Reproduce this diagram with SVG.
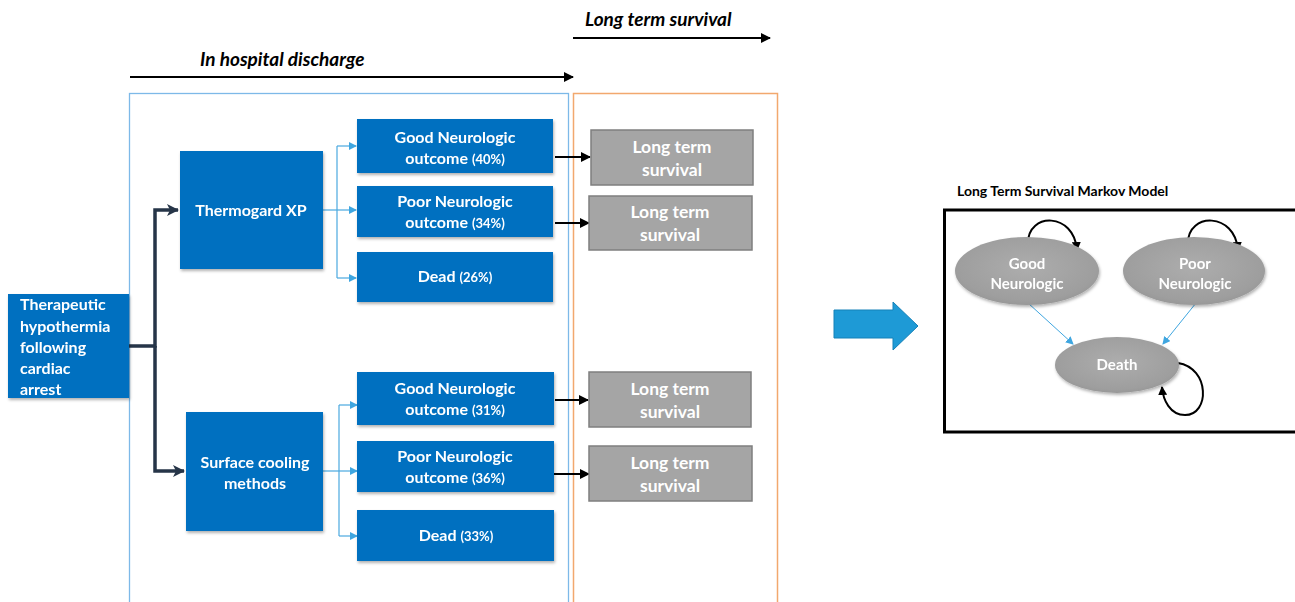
<svg xmlns="http://www.w3.org/2000/svg" width="1295" height="602" viewBox="0 0 1295 602">
<defs>
<style>
.t{font-family:Lato,"Open Sans","Liberation Sans",sans-serif;font-weight:bold;fill:#fff}
.bx{fill:#0070C0}
.gr{fill:#A5A5A5;stroke:#7F7F7F;stroke-width:1.5}
.lb{fill:none;stroke:#4AA8E0;stroke-width:1.2}
.dk{fill:none;stroke:#263548;stroke-width:3.5}
.bk{fill:none;stroke:#000;stroke-width:2}
.pc{font-size:13px}
.hd{font-family:Lato,"Open Sans","Liberation Sans",sans-serif;font-weight:bold;font-style:italic;font-size:19px;fill:#000}
.el{fill:url(#eg)}
</style>
<marker id="ab" markerWidth="8" markerHeight="8" refX="7" refY="4" orient="auto" markerUnits="userSpaceOnUse"><path d="M0,0 L8,4 L0,8 Z" fill="#3FA6E0"/></marker>
<marker id="ad" markerWidth="12" markerHeight="12" refX="11" refY="6" orient="auto" markerUnits="userSpaceOnUse"><path d="M0,0 L12,6 L0,12 L3,6 Z" fill="#263548"/></marker>
<marker id="ak" markerWidth="10" markerHeight="10" refX="9" refY="5" orient="auto" markerUnits="userSpaceOnUse"><path d="M0,0 L10,5 L0,10 Z" fill="#000"/></marker>
<marker id="ak2" markerWidth="9" markerHeight="9" refX="8" refY="4.5" orient="auto" markerUnits="userSpaceOnUse"><path d="M0,0 L9,4.5 L0,9 Z" fill="#000"/></marker>
<radialGradient id="eg" cx="0.5" cy="0.45" r="0.6"><stop offset="0" stop-color="#ADADAD"/><stop offset="0.8" stop-color="#9E9E9E"/><stop offset="1" stop-color="#949494"/></radialGradient>
<filter id="sh" x="-10%" y="-10%" width="130%" height="140%"><feDropShadow dx="1" dy="2" stdDeviation="1.5" flood-color="#000" flood-opacity="0.3"/></filter>
</defs>
<rect width="1295" height="602" fill="#fff"/>

<g id="frames">
<rect x="129.5" y="93.5" width="439" height="520" fill="none" stroke="#7DB9E8" stroke-width="1.3"/>
<rect x="573.5" y="93.5" width="204" height="520" fill="none" stroke="#F2A86E" stroke-width="1.5"/>
</g>

<g id="timeline">
<line x1="130" y1="77" x2="573" y2="77" class="bk" marker-end="url(#ak)"/>
<text x="200" y="66" class="hd">In hospital discharge</text>
<line x1="573" y1="38" x2="770" y2="38" class="bk" marker-end="url(#ak)"/>
<text x="585" y="26" class="hd">Long term survival</text>
</g>

<g id="connectors">
<path class="dk" d="M129,346 H155 V210 H178" marker-end="url(#ad)"/>
<path class="dk" d="M155,346 V471 H184" marker-end="url(#ad)"/>
<path class="lb" d="M323,210 H337"/>
<path class="lb" d="M337,146 V278"/>
<path class="lb" d="M337,146 H356" marker-end="url(#ab)"/>
<path class="lb" d="M337,210 H356" marker-end="url(#ab)"/>
<path class="lb" d="M337,278 H356" marker-end="url(#ab)"/>
<path class="lb" d="M323,471 H339"/>
<path class="lb" d="M339,405 V536"/>
<path class="lb" d="M339,405 H357" marker-end="url(#ab)"/>
<path class="lb" d="M339,471 H357" marker-end="url(#ab)"/>
<path class="lb" d="M339,536 H357" marker-end="url(#ab)"/>
<line class="bk" x1="555" y1="157" x2="590" y2="157" marker-end="url(#ak)"/>
<line class="bk" x1="555" y1="223" x2="589" y2="223" marker-end="url(#ak)"/>
<line class="bk" x1="555" y1="400" x2="588" y2="400" marker-end="url(#ak)"/>
<line class="bk" x1="553" y1="474" x2="589" y2="474" marker-end="url(#ak)"/>
</g>

<g id="root" filter="url(#sh)">
<rect class="bx" x="8" y="294" width="121" height="104"/>
<text class="t" font-size="16"><tspan x="20" y="310">Therapeutic</tspan><tspan x="20" y="332">hypothermia</tspan><tspan x="20" y="353">following</tspan><tspan x="20" y="374">cardiac</tspan><tspan x="20" y="395">arrest</tspan></text>
</g>

<g id="thermogard" filter="url(#sh)">
<rect class="bx" x="180" y="151" width="143" height="118"/>
<text class="t" font-size="16" x="251" y="216" text-anchor="middle">Thermogard XP</text>
</g>

<g id="surface" filter="url(#sh)">
<rect class="bx" x="186" y="412" width="137" height="119"/>
<text class="t" font-size="16" text-anchor="middle"><tspan x="255" y="468">Surface cooling</tspan><tspan x="255" y="489">methods</tspan></text>
</g>

<g id="good1" filter="url(#sh)">
<rect class="bx" x="357" y="119" width="196" height="54"/>
<text class="t" font-size="16" text-anchor="middle"><tspan x="455" y="143">Good Neurologic</tspan><tspan x="455" y="164">outcome <tspan class="pc">(40%)</tspan></tspan></text>
</g>
<g id="poor1" filter="url(#sh)">
<rect class="bx" x="357" y="186" width="196" height="51"/>
<text class="t" font-size="16" text-anchor="middle"><tspan x="455" y="207">Poor Neurologic</tspan><tspan x="455" y="228">outcome <tspan class="pc">(34%)</tspan></tspan></text>
</g>
<g id="dead1" filter="url(#sh)">
<rect class="bx" x="357" y="252" width="196" height="50"/>
<text class="t" font-size="16" x="455" y="282" text-anchor="middle">Dead <tspan class="pc">(26%)</tspan></text>
</g>

<g id="good2" filter="url(#sh)">
<rect class="bx" x="357" y="372" width="197" height="53"/>
<text class="t" font-size="16" text-anchor="middle"><tspan x="455" y="394">Good Neurologic</tspan><tspan x="455" y="415">outcome <tspan class="pc">(31%)</tspan></tspan></text>
</g>
<g id="poor2" filter="url(#sh)">
<rect class="bx" x="357" y="441" width="197" height="51"/>
<text class="t" font-size="16" text-anchor="middle"><tspan x="455" y="462">Poor Neurologic</tspan><tspan x="455" y="483">outcome <tspan class="pc">(36%)</tspan></tspan></text>
</g>
<g id="dead2" filter="url(#sh)">
<rect class="bx" x="357" y="510" width="197" height="51"/>
<text class="t" font-size="16" x="456" y="541" text-anchor="middle">Dead <tspan class="pc">(33%)</tspan></text>
</g>

<g id="lts1">
<rect class="gr" x="591" y="130" width="162" height="55"/>
<text class="t" font-size="17.5" text-anchor="middle"><tspan x="672" y="153">Long term</tspan><tspan x="672" y="176">survival</tspan></text>
</g>
<g id="lts2">
<rect class="gr" x="589" y="196" width="163" height="54"/>
<text class="t" font-size="17.5" text-anchor="middle"><tspan x="670" y="218">Long term</tspan><tspan x="670" y="241">survival</tspan></text>
</g>
<g id="lts3">
<rect class="gr" x="589" y="372" width="162" height="55"/>
<text class="t" font-size="17.5" text-anchor="middle"><tspan x="670" y="395">Long term</tspan><tspan x="670" y="418">survival</tspan></text>
</g>
<g id="lts4">
<rect class="gr" x="589" y="446" width="163" height="55"/>
<text class="t" font-size="17.5" text-anchor="middle"><tspan x="670" y="469">Long term</tspan><tspan x="670" y="492">survival</tspan></text>
</g>

<g id="bigarrow">
<path d="M834,310 H893 V302 L918,326 L893,350 V338 H834 Z" fill="#1E9AD6" stroke="#1581B8" stroke-width="1"/>
</g>

<g id="markov">
<text x="957" y="196" font-family="Lato,'Open Sans','Liberation Sans',sans-serif" font-weight="bold" font-size="14" fill="#000">Long Term Survival Markov Model</text>
<rect x="944.5" y="210" width="360" height="222" fill="none" stroke="#000" stroke-width="3"/>
</g>

<g id="markov-connectors">
<path d="M1028,303 L1073,344" fill="none" stroke="#3FA6E0" stroke-width="1" marker-end="url(#ab)"/>
<path d="M1196,303 L1163,344" fill="none" stroke="#3FA6E0" stroke-width="1" marker-end="url(#ab)"/>
<path d="M1028,243 C1028,212 1074,212 1077,250" class="bk" marker-end="url(#ak2)"/>
<path d="M1188,243 C1188,212 1235,212 1238,250" class="bk" marker-end="url(#ak2)"/>
<path d="M1178,363 C1210,368 1210,415 1185,415 C1170,415 1163,400 1162,387" class="bk" marker-end="url(#ak2)"/>
</g>

<g id="good-state" filter="url(#sh)">
<ellipse class="el" cx="1027" cy="271" rx="72" ry="34"/>
<text class="t" font-size="15" text-anchor="middle"><tspan x="1027" y="269">Good</tspan><tspan x="1027" y="289">Neurologic</tspan></text>
</g>
<g id="poor-state" filter="url(#sh)">
<ellipse class="el" cx="1194" cy="271" rx="71" ry="34"/>
<text class="t" font-size="15" text-anchor="middle"><tspan x="1195" y="269">Poor</tspan><tspan x="1195" y="289">Neurologic</tspan></text>
</g>
<g id="death-state" filter="url(#sh)">
<ellipse class="el" cx="1117" cy="365" rx="62" ry="28"/>
<text class="t" font-size="15" x="1117" y="370" text-anchor="middle">Death</text>
</g>
</svg>
